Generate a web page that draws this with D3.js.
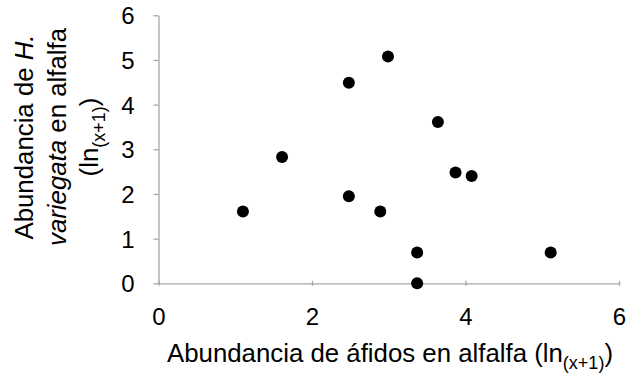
<!DOCTYPE html>
<html><head><meta charset="utf-8">
<script src="https://cdn.jsdelivr.net/npm/d3@7"></script>
<style>body{margin:0;background:#fff}svg{display:block}text{font-family:"Liberation Sans",Arial,sans-serif}</style>
</head><body>
<script>
const xValues = [1.10, 1.61, 2.48, 2.48, 2.99, 2.89, 3.37, 3.37, 3.64, 3.87, 4.08, 5.11];
const yValues = [1.61, 2.83, 4.49, 1.95, 5.08, 1.61, 0.69, 0.00, 3.61, 2.48, 2.40, 0.69];
const xTicks = [0, 2, 4, 6];
const yTicks = [0, 1, 2, 3, 4, 5, 6];

const W = 627, H = 375;
const m = {left: 158.5, right: 8, top: 15.3, bottom: 91.7};
const FS = 24, TS = 25.8, SS = 18;
const svg = d3.select("body").append("svg").attr("width", W).attr("height", H);
const x = d3.scaleLinear().domain([0, 6]).range([m.left, W - m.right]);
const y = d3.scaleLinear().domain([0, 6]).range([H - m.bottom, m.top]);
const axisColor = "#a6a6a6";

const gx = svg.append("g").attr("transform", `translate(0,${y(0)})`)
  .call(d3.axisBottom(x).tickValues(xTicks).tickSize(5).tickSizeOuter(0).tickFormat(d3.format("d")));
gx.selectAll("line").attr("stroke", axisColor).attr("transform", "translate(0,-2.5)").attr("stroke-width", 1.3);
gx.select(".domain").attr("stroke", axisColor).attr("stroke-width", 1.3);
gx.selectAll("text").attr("font-size", FS).attr("fill", "#000").attr("dy", null).attr("y", 42);

const gy = svg.append("g").attr("transform", `translate(${x(0)},0)`)
  .call(d3.axisLeft(y).tickValues(yTicks).tickSize(5).tickSizeOuter(0).tickFormat(d3.format("d")));
gy.selectAll("line").attr("stroke", axisColor).attr("stroke-width", 1.3);
gy.select(".domain").attr("stroke", axisColor).attr("stroke-width", 1.3);
gy.selectAll("text").attr("font-size", FS).attr("fill", "#000").attr("x", -24).attr("dy", "0.36em");

svg.append("g").selectAll("circle").data(xValues.map((v, i) => [v, yValues[i]])).join("circle")
  .attr("cx", d => x(d[0])).attr("cy", d => y(d[1])).attr("r", 6).attr("fill", "#000");

// X title
const xt = svg.append("text").attr("x", 390).attr("y", 362).attr("text-anchor", "middle").attr("font-size", TS).attr("fill", "#000");
xt.append("tspan").text("Abundancia de áfidos en alfalfa (ln");
xt.append("tspan").attr("font-size", SS).attr("dy", 7).text("(x+1)");
xt.append("tspan").attr("dy", -7).text(")");

// Y title
const yt = svg.append("g").attr("transform", "translate(0,137) rotate(-90)");
const l1 = yt.append("text").attr("x", 0).attr("y", 33).attr("text-anchor", "middle").attr("font-size", TS).attr("fill", "#000");
l1.append("tspan").text("Abundancia de ");
l1.append("tspan").attr("font-style", "italic").text("H.");
const l2 = yt.append("text").attr("x", 0).attr("y", 66).attr("text-anchor", "middle").attr("font-size", TS).attr("fill", "#000");
l2.append("tspan").attr("font-style", "italic").text("variegata");
l2.append("tspan").text(" en alfalfa");
const l3 = yt.append("text").attr("x", 0).attr("y", 98).attr("text-anchor", "middle").attr("font-size", TS).attr("fill", "#000");
l3.append("tspan").text("(ln");
l3.append("tspan").attr("font-size", SS).attr("dy", 7).text("(x+1)");
l3.append("tspan").attr("dy", -7).text(")");
</script>
</body></html>
